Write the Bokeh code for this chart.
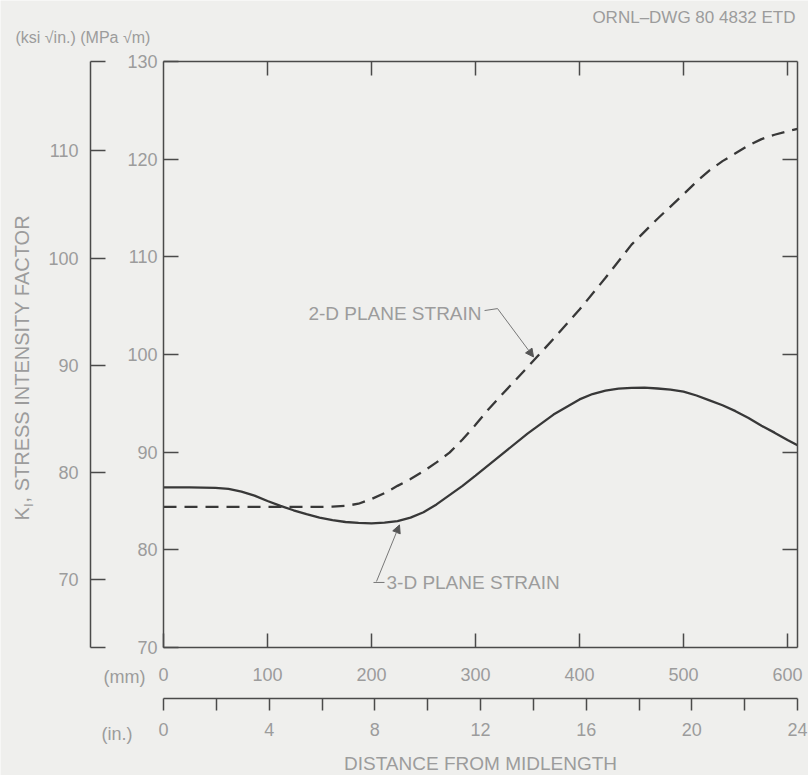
import math
from bokeh.plotting import figure
from bokeh.models import Range1d, LinearAxis, FixedTicker, Label, Arrow, NormalHead
from bokeh.embed import file_html
from bokeh.resources import INLINE

# ---------------- data ----------------
dist_3d_mm = [0, 25, 50, 62.5, 75, 87.5, 100, 112.5, 125, 137.5, 150, 162.5, 175, 187.5,
              200, 212.5, 225, 237.5, 250, 262.5, 275, 287.5, 300, 325, 350, 375, 400,
              412.5, 425, 437.5, 450, 462.5, 475, 487.5, 500, 512.5, 525, 537.5, 550,
              562.5, 575, 587.5, 600, 609.6]
k_3d_mpa = [86.4, 86.4, 86.35, 86.25, 85.95, 85.55, 85.0, 84.5, 84.05, 83.65, 83.3, 83.05,
            82.85, 82.75, 82.7, 82.78, 82.95, 83.3, 83.85, 84.65, 85.6, 86.55, 87.6, 89.75,
            91.9, 93.85, 95.4, 95.95, 96.3, 96.5, 96.58, 96.6, 96.52, 96.4, 96.2, 95.8, 95.3,
            94.8, 94.2, 93.5, 92.7, 92.0, 91.25, 90.7]

dist_2d_mm = [0, 25, 50, 100, 150, 162.5, 175, 187.5, 200, 212.5, 225, 237.5, 250, 262.5,
              275, 287.5, 300, 312.5, 325, 350, 375, 400, 425, 450, 475, 500, 512.5, 525,
              537.5, 550, 562.5, 575, 587.5, 600, 609.6]
k_2d_mpa = [84.4, 84.4, 84.4, 84.4, 84.4, 84.42, 84.5, 84.72, 85.2, 85.8, 86.55, 87.25,
            88.05, 88.95, 89.95, 91.3, 92.8, 94.4, 95.85, 98.7, 101.6, 104.6, 107.85, 111.25,
            113.9, 116.4, 117.7, 118.85, 119.8, 120.6, 121.4, 122.05, 122.5, 122.85, 123.1]

mpa_ticks = [70, 80, 90, 100, 110, 120, 130]
ksi_ticks = [70, 80, 90, 100, 110]
mm_ticks = [0, 100, 200, 300, 400, 500, 600]
in_ticks = [0, 4, 8, 12, 16, 20, 24]
in_minor_ticks = [2, 6, 10, 14, 18, 22]

MPA_PER_KSI = 1.0988
MM_PER_IN = 25.4
X_MAX_MM = 24 * MM_PER_IN

# ---------------- canvas geometry (pixels) ----------------
W, H = 808, 775
FR_L, FR_R, FR_T, FR_B = 163, 797, 61, 647          # inner chart box
px_per_mm = (FR_R - FR_L) / X_MAX_MM
px_per_mpa = (FR_B - FR_T) / (130 - 70)
x0 = -FR_L / px_per_mm
x1 = X_MAX_MM + (W - FR_R) / px_per_mm
y0 = 70 - (H - FR_B) / px_per_mpa
y1 = 130 + FR_T / px_per_mpa

# ---------------- styling ----------------
BG = "#efefed"
AX = "#4a4a4a"
LC = "#383838"
TXT = "#9c9c9c"
FONT = "Liberation Sans"

p = figure(width=W, height=H, x_range=Range1d(x0, x1), y_range=Range1d(y0, y1),
           output_backend="svg", toolbar_location=None,
           x_axis_location=None, y_axis_location=None,
           min_border=0, min_border_left=0, min_border_right=0,
           min_border_top=0, min_border_bottom=0,
           background_fill_color=BG, border_fill_color=BG, outline_line_color=None)
p.grid.visible = False

p.extra_y_ranges = {"ksi": Range1d(y0 / MPA_PER_KSI, y1 / MPA_PER_KSI)}
p.extra_x_ranges = {"inch": Range1d(x0 / MM_PER_IN, x1 / MM_PER_IN)}


def make_axis(side, ticks, loc, bounds, tick_in=0, tick_out=0, standoff=6,
              minor=None, labels=True, line=True, **kw):
    ax = LinearAxis(ticker=FixedTicker(ticks=ticks, minor_ticks=minor or []),
                    fixed_location=loc, bounds=bounds, **kw)
    ax.axis_line_color = AX if line else None
    ax.axis_line_width = 1.5
    ax.major_tick_line_color = AX
    ax.major_tick_line_width = 1.5
    ax.minor_tick_line_color = AX if minor else None
    ax.minor_tick_line_width = 1.5
    ax.major_tick_in = tick_in
    ax.major_tick_out = tick_out
    ax.minor_tick_in = tick_in
    ax.minor_tick_out = tick_out
    ax.major_label_standoff = standoff
    ax.major_label_text_font = FONT
    if labels:
        ax.major_label_text_color = TXT
        ax.major_label_text_font_size = "18px"
    else:
        ax.major_label_text_color = None
        ax.major_label_text_font_size = "0px"
    p.add_layout(ax, side)
    return ax


# inner MPa axis (left edge of the box)
make_axis("left", mpa_ticks, 0, (70, 130), tick_in=15, standoff=6)
# outer ksi axis
make_axis("left", ksi_ticks, -70.2, (70 / MPA_PER_KSI, 130 / MPA_PER_KSI),
          tick_in=15, standoff=12, minor=[70 / MPA_PER_KSI + 0.02, 130 / MPA_PER_KSI - 0.02],
          y_range_name="ksi")
# mm axis (bottom edge of the box)
make_axis("below", mm_ticks, 70, (0, X_MAX_MM), tick_in=14, standoff=20)
# inch axis
make_axis("below", in_ticks, 64.78, (0, 24), tick_out=12, standoff=13,
          minor=in_minor_ticks, x_range_name="inch")
# top and right edges of the box, ticks only
make_axis("above", mm_ticks[1:], 130, (0, X_MAX_MM), tick_in=14, standoff=0, labels=False)
make_axis("right", mpa_ticks[1:-1], X_MAX_MM, (70, 130), tick_in=15, standoff=0, labels=False)

# ---------------- curves ----------------
p.line(dist_3d_mm, k_3d_mpa, line_color=LC, line_width=2.3)
p.line(dist_2d_mm, k_2d_mpa, line_color=LC, line_width=2.3, line_dash="13 8")


# ---------------- annotations ----------------
def lab(text, x, y, size="19px", align="left", baseline="middle", angle=0.0, color=TXT):
    p.add_layout(Label(text=text, x=x, y=y, text_font=FONT, text_font_size=size,
                       text_color=color, text_align=align, text_baseline=baseline,
                       angle=angle))


lab("2-D PLANE STRAIN", 305.8, 104.2, align="right")
p.line([308.7, 321.2], [104.5, 104.7], line_color="#777777", line_width=1)
p.add_layout(Arrow(end=NormalHead(size=8, fill_color="#555555", line_color="#555555"),
                   x_start=321.2, y_start=104.7, x_end=355.8, y_end=99.75,
                   line_color="#777777", line_width=1))

lab("3-D PLANE STRAIN", 214.4, 76.66, align="left")
p.line([212.5, 201.9], [76.66, 76.66], line_color="#777777", line_width=1)
p.add_layout(Arrow(end=NormalHead(size=8, fill_color="#555555", line_color="#555555"),
                   x_start=204.8, y_start=76.76, x_end=226.9, y_end=82.55,
                   line_color="#777777", line_width=1))

# unit captions and axis titles
lab("(ksi \u221ain.) (MPa \u221am)", -142.3, 132.46, size="16px")
lab("ORNL\u2013DWG 80 4832 ETD", 607.7, 134.5, size="17px", align="right")
lab("(mm)", -17.3, 66.93, size="18px", align="right")
lab("(in.)", -29.8, 61.19, size="18px", align="right")
lab("DISTANCE FROM MIDLENGTH", 304.8, 58.12, size="19px", align="center")

# rotated y-axis title: K with subscript I
lab("K", -135.6, 83.0, size="20px", angle=math.pi / 2)
lab("I", -129.4, 84.39, size="13px", angle=math.pi / 2)
lab(", STRESS INTENSITY FACTOR", -135.6, 84.85, size="20px", angle=math.pi / 2)

open("out.html", "w").write(file_html(p, INLINE))
